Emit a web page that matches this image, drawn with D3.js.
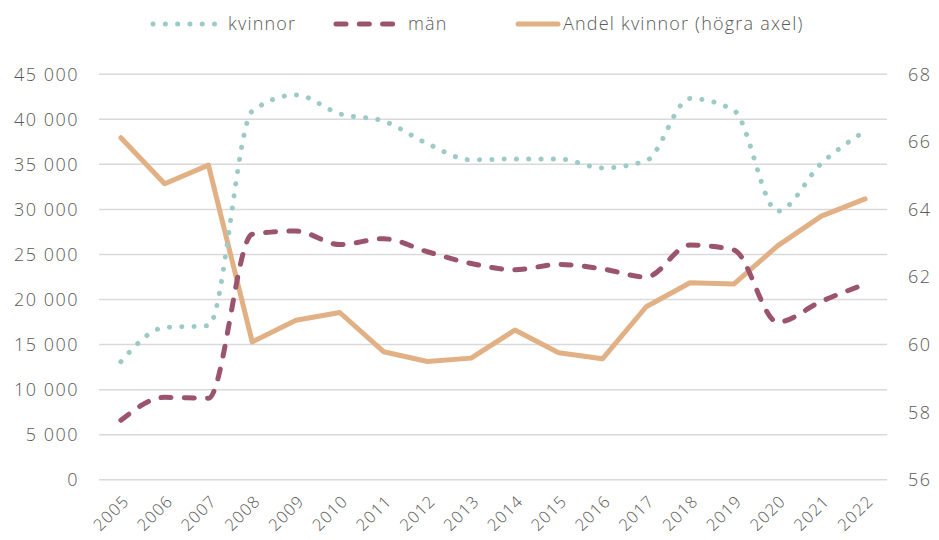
<!DOCTYPE html>
<html>
<head>
<meta charset="utf-8">
<script src="https://cdn.jsdelivr.net/npm/d3@7"></script>
<style>
  body { margin: 0; background: #fff; }
  text { font-family: "Open Sans", Lato, sans-serif; font-weight: 300; fill: #595959; }
</style>
</head>
<body>
<svg id="chart" width="939" height="540"></svg>
<script>
const years = ["2005","2006","2007","2008","2009","2010","2011","2012","2013","2014","2015","2016","2017","2018","2019","2020","2021","2022"];
const kvinnor = [13100, 16900, 17100, 40900, 42700, 40600, 39800, 37300, 35500, 35600, 35600, 34600, 35400, 42300, 41000, 29800, 35100, 38700];
const man = [6600, 9150, 9050, 27250, 27600, 26100, 26750, 25300, 24000, 23300, 23900, 23400, 22500, 26050, 25500, 17500, 19800, 21700];
const andel = [66.12, 64.76, 65.31, 60.08, 60.72, 60.95, 59.79, 59.5, 59.6, 60.43, 59.76, 59.58, 61.12, 61.83, 61.79, 62.92, 63.8, 64.31];
const leftTicks = [0, 5000, 10000, 15000, 20000, 25000, 30000, 35000, 40000, 45000];
const rightTicks = [56, 58, 60, 62, 64, 66, 68];

const svg = d3.select("#chart");
const plotLeft = 99, plotRight = 887, plotTop = 74.2, plotBottom = 479.8;

const x = d3.scalePoint().domain(years).range([plotLeft, plotRight]).padding(0.5);
const yL = d3.scaleLinear().domain([0, 45000]).range([plotBottom, plotTop]);
const yR = d3.scaleLinear().domain([56, 68]).range([plotBottom, plotTop]);

const fmt = (d) => d3.format(",")(d).replace(/,/g, " ");

// gridlines
svg.append("g")
  .selectAll("line")
  .data(leftTicks)
  .enter()
  .append("line")
  .attr("x1", plotLeft)
  .attr("x2", plotRight)
  .attr("y1", (d) => yL(d))
  .attr("y2", (d) => yL(d))
  .attr("stroke", "#d9d9d9")
  .attr("stroke-width", 1.5);

// left axis labels
svg.append("g")
  .selectAll("text")
  .data(leftTicks)
  .enter()
  .append("text")
  .attr("x", 79)
  .attr("y", (d) => yL(d))
  .attr("dy", "0.36em")
  .attr("text-anchor", "end")
  .attr("font-size", "18px")
  .attr("letter-spacing", "1.5px")
  .text((d) => fmt(d));

// right axis labels
svg.append("g")
  .selectAll("text")
  .data(rightTicks)
  .enter()
  .append("text")
  .attr("x", 908)
  .attr("y", (d) => yR(d))
  .attr("dy", "0.36em")
  .attr("text-anchor", "start")
  .attr("font-size", "18px")
  .attr("letter-spacing", "1.5px")
  .text((d) => d);

// x labels
svg.append("g")
  .selectAll("text")
  .data(years)
  .enter()
  .append("text")
  .attr("transform", (d) => `translate(${x(d) + 5},${498}) rotate(-45)`)
  .attr("text-anchor", "end")
  .attr("dy", "0.36em")
  .attr("font-size", "16.5px")
  .attr("letter-spacing", "1.1px")
  .text((d) => d);

const lineL = d3.line()
  .x((d, i) => x(years[i]))
  .y((d) => yL(d))
  .curve(d3.curveMonotoneX);

const lineR = d3.line()
  .x((d, i) => x(years[i]))
  .y((d) => yR(d));

svg.append("path")
  .attr("d", lineR(andel))
  .attr("fill", "none")
  .attr("stroke", "#e1b085")
  .attr("stroke-width", 5)
  .attr("stroke-linejoin", "round")
  .attr("stroke-linecap", "round");

svg.append("path")
  .attr("d", lineL(man))
  .attr("fill", "none")
  .attr("stroke", "#9b546e")
  .attr("stroke-width", 5)
  .attr("stroke-dasharray", "10 13.3")
  .attr("stroke-linecap", "round");

svg.append("path")
  .attr("d", lineL(kvinnor))
  .attr("fill", "none")
  .attr("stroke", "#9ccbc7")
  .attr("stroke-width", 5)
  .attr("stroke-dasharray", "0.1 12.2")
  .attr("stroke-linecap", "round");

// legend
const legend = [
  { label: "kvinnor", x: 153, w: 61.5, tx: 228, color: "#9ccbc7", dash: "0.1 12.2" },
  { label: "män", x: 336, w: 57, tx: 408, color: "#9b546e", dash: "10 13.3" },
  { label: "Andel kvinnor (högra axel)", x: 518, w: 40, tx: 563, color: "#e1b085", dash: null }
];
const lg = svg.append("g").selectAll("g").data(legend).enter().append("g");
lg.append("line")
  .attr("x1", (d) => d.x)
  .attr("x2", (d) => d.x + d.w)
  .attr("y1", 24)
  .attr("y2", 24)
  .attr("stroke", (d) => d.color)
  .attr("stroke-width", 5)
  .attr("stroke-linecap", "round")
  .attr("stroke-dasharray", (d) => d.dash);
lg.append("text")
  .attr("x", (d) => d.tx)
  .attr("y", 24)
  .attr("dy", "0.36em")
  .attr("font-size", "18px")
  .attr("letter-spacing", "1.2px")
  .text((d) => d.label);
</script>
</body>
</html>
